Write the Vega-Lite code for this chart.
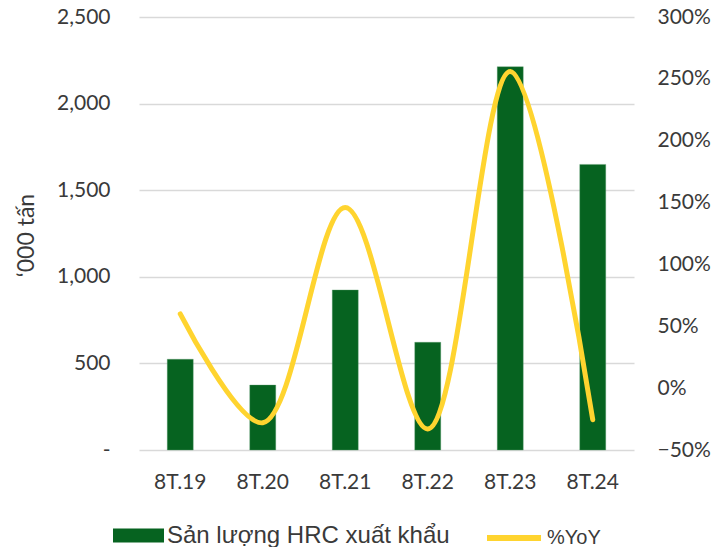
{
  "$schema": "https://vega.github.io/schema/vega-lite/v6.json",
  "width": 495,
  "height": 433,
  "autosize": {"type": "none"},
  "padding": {"left": 139, "top": 17, "right": 79, "bottom": 97},
  "background": "white",
  "config": {
    "view": {"stroke": null},
    "font": "Lato",
    "axis": {"labelFont": "Lato", "labelFontSize": 21, "labelColor": "#3a3a3a", "titleFont": "Lato", "titleColor": "#3a3a3a", "titleFontWeight": "normal"},
    "legend": {"labelFont": "Liberation Sans", "labelColor": "#3a3a3a", "labelLimit": 400}
  },
  "data": {
    "values": [
      {"period": "8T.19", "output": 524, "yoy": 0.60},
      {"period": "8T.20", "output": 375, "yoy": -0.28},
      {"period": "8T.21", "output": 924, "yoy": 1.46},
      {"period": "8T.22", "output": 622, "yoy": -0.33},
      {"period": "8T.23", "output": 2213, "yoy": 2.56},
      {"period": "8T.24", "output": 1649, "yoy": -0.255}
    ]
  },
  "encoding": {
    "x": {
      "field": "period",
      "type": "nominal",
      "sort": null,
      "scale": {"paddingInner": 0, "paddingOuter": 0},
      "axis": {"title": null, "labelAngle": 0, "ticks": false, "domain": false, "labelPadding": 21, "grid": false}
    }
  },
  "layer": [
    {
      "mark": {"type": "bar", "width": 26, "stroke": "#5f9d6f", "strokeWidth": 0.6, "strokeOpacity": 0.6},
      "encoding": {
        "y": {
          "field": "output",
          "type": "quantitative",
          "scale": {"domain": [0, 2500], "nice": false},
          "axis": {
            "values": [0, 500, 1000, 1500, 2000, 2500],
            "labelExpr": "datum.value == 0 ? '-' : format(datum.value, ',')",
            "title": "‘000 tấn",
            "titleFontSize": 23,
            "titleAngle": -90,
            "titleAlign": "center",
            "titleBaseline": "middle",
            "titleX": -113,
            "titleY": 218,
            "ticks": false,
            "domain": false,
            "labelPadding": 29,
            "grid": true,
            "gridColor": "#d9d9d9",
            "gridWidth": 1.5
          }
        },
        "fill": {
          "datum": "Sản lượng HRC xuất khẩu",
          "type": "nominal",
          "scale": {"range": ["#066320"]},
          "legend": {
            "title": null,
            "orient": "none",
            "legendX": -26,
            "legendY": 493,
            "padding": 0,
            "symbolType": "M-1,-0.27H1V0.27H-1Z",
            "symbolSize": 2601,
            "symbolOpacity": 1,
            "symbolStrokeWidth": 0,
            "labelFontSize": 24,
            "labelOffset": 3
          }
        }
      }
    },
    {
      "mark": {"type": "line", "interpolate": "catmull-rom", "strokeWidth": 5, "strokeCap": "round"},
      "encoding": {
        "y": {
          "field": "yoy",
          "type": "quantitative",
          "scale": {"domain": [-0.5, 3], "nice": false},
          "axis": {
            "orient": "right",
            "values": [-0.5, 0, 0.5, 1, 1.5, 2, 2.5, 3],
            "format": ".0%",
            "title": null,
            "ticks": false,
            "domain": false,
            "labelPadding": 23,
            "grid": false
          }
        },
        "stroke": {
          "datum": "%YoY",
          "type": "nominal",
          "scale": {"range": ["#FFD42F"]},
          "legend": {
            "title": null,
            "orient": "none",
            "legendX": 345,
            "legendY": 491,
            "padding": 0,
            "symbolType": "stroke",
            "symbolSize": 2916,
            "symbolStrokeWidth": 6,
            "labelFontSize": 20,
            "labelOffset": 3
          }
        }
      }
    }
  ],
  "resolve": {"scale": {"y": "independent"}}
}
